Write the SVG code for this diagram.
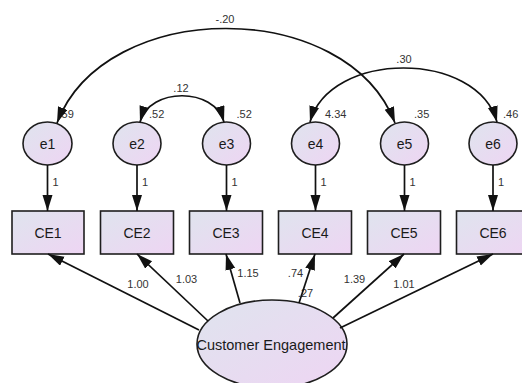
<svg xmlns="http://www.w3.org/2000/svg" width="522" height="383" viewBox="0 0 522 383">
  <defs>
    <linearGradient id="fillGrad" x1="0" y1="0" x2="1" y2="1">
      <stop offset="0" stop-color="#dfe4ee"/>
      <stop offset="1" stop-color="#eed5f3"/>
    </linearGradient>
    <marker id="arrow" markerUnits="userSpaceOnUse" markerWidth="17" markerHeight="11" refX="16" refY="5" orient="auto-start-reverse">
      <path d="M0,0 L16,5 L0,10 z" fill="#111"/>
    </marker>
  </defs>
  <style>
    .shape { fill: url(#fillGrad); stroke: #1e1e1e; stroke-width: 1.6; }
    .name { font-family: "Liberation Sans", Arial, sans-serif; font-size: 14px; fill: #1a1a1a; text-anchor: middle; }
    .big { font-size: 14.5px; }
    .est { font-family: "Liberation Sans", Arial, sans-serif; font-size: 11px; fill: #333; }
    .mid { text-anchor: middle; }
    .link { fill: none; stroke: #111; stroke-width: 1.7; marker-end: url(#arrow); }
    .cov { fill: none; stroke: #111; stroke-width: 1.7; marker-start: url(#arrow); marker-end: url(#arrow); }
  </style>
  <rect width="522" height="383" fill="#fff"/>

  <!-- error terms -->
  <g id="e1"><ellipse class="shape" cx="47.5" cy="143.5" rx="24.5" ry="21.5"/><text class="name" x="47.5" y="148.5">e1</text><text class="est" x="58.5" y="118">.59</text></g>
  <g id="e2"><ellipse class="shape" cx="137" cy="143.5" rx="24" ry="21.5"/><text class="name" x="137" y="148.5">e2</text><text class="est" x="149" y="118">.52</text></g>
  <g id="e3"><ellipse class="shape" cx="226.5" cy="143.5" rx="24" ry="21.5"/><text class="name" x="226.5" y="148.5">e3</text><text class="est" x="236.5" y="118">.52</text></g>
  <g id="e4"><ellipse class="shape" cx="315.5" cy="143.5" rx="24" ry="21.5"/><text class="name" x="315.5" y="148.5">e4</text><text class="est" x="325" y="118">4.34</text></g>
  <g id="e5"><ellipse class="shape" cx="404.5" cy="143.5" rx="24" ry="21.5"/><text class="name" x="404.5" y="148.5">e5</text><text class="est" x="414" y="118">.35</text></g>
  <g id="e6"><ellipse class="shape" cx="493" cy="143.5" rx="24" ry="21.5"/><text class="name" x="493" y="148.5">e6</text><text class="est" x="503" y="118">.46</text></g>

  <!-- observed indicators -->
  <g id="CE1"><rect class="shape" x="12" y="211" width="72" height="43"/><text class="name" x="48" y="238">CE1</text></g>
  <g id="CE2"><rect class="shape" x="100.5" y="211" width="73" height="43"/><text class="name" x="137" y="238">CE2</text></g>
  <g id="CE3"><rect class="shape" x="189.5" y="211" width="73" height="43"/><text class="name" x="226" y="238">CE3</text></g>
  <g id="CE4"><rect class="shape" x="278.5" y="211" width="73" height="43"/><text class="name" x="315" y="238">CE4</text></g>
  <g id="CE5"><rect class="shape" x="367.5" y="211" width="73" height="43"/><text class="name" x="404" y="238">CE5</text></g>
  <g id="CE6"><rect class="shape" x="456.5" y="211" width="73" height="43"/><text class="name" x="493" y="238">CE6</text></g>

  <!-- latent factor -->
  <g id="CustomerEngagement"><ellipse class="shape" cx="272" cy="344" rx="75" ry="44"/><text class="name big" x="271" y="350">Customer Engagement</text><text class="est mid" x="305.5" y="297">.27</text></g>

  <!-- paths -->
  <g id="connectors">
    <!-- error to indicator -->
    <line class="link" x1="47.5" y1="165" x2="47.5" y2="211"/>
    <line class="link" x1="137" y1="165" x2="137" y2="211"/>
    <line class="link" x1="226.5" y1="165" x2="226.5" y2="211"/>
    <line class="link" x1="315.5" y1="165" x2="315.5" y2="211"/>
    <line class="link" x1="404.5" y1="165" x2="404.5" y2="211"/>
    <line class="link" x1="493" y1="165" x2="493" y2="211"/>
    <!-- factor loadings -->
    <line class="link" x1="199" y1="330" x2="48" y2="254"/>
    <line class="link" x1="208" y1="321" x2="137" y2="254"/>
    <line class="link" x1="240" y1="303" x2="226" y2="254"/>
    <line class="link" x1="299" y1="303" x2="315" y2="254"/>
    <line class="link" x1="333" y1="318" x2="404" y2="254"/>
    <line class="link" x1="340" y1="328" x2="493" y2="254"/>
    <!-- covariances -->
    <path class="cov" d="M57,123 C105,-3 347,-3 395,123"/>
    <path class="cov" d="M140,122 C150,87 214,87 224,122"/>
    <path class="cov" d="M310,122 C330,50 477,50 497,122"/>
  </g>

  <!-- estimates -->
  <g id="estimates">
    <text class="est mid" x="225" y="23">-.20</text>
    <text class="est mid" x="181" y="92">.12</text>
    <text class="est mid" x="404" y="63">.30</text>
    <text class="est" x="52.5" y="186">1</text>
    <text class="est" x="142" y="186">1</text>
    <text class="est" x="231.5" y="186">1</text>
    <text class="est" x="320.5" y="186">1</text>
    <text class="est" x="409.5" y="186">1</text>
    <text class="est" x="498" y="186">1</text>
    <text class="est mid" x="138" y="288">1.00</text>
    <text class="est mid" x="186.5" y="283">1.03</text>
    <text class="est mid" x="248" y="277">1.15</text>
    <text class="est mid" x="295.5" y="277">.74</text>
    <text class="est mid" x="354.5" y="283">1.39</text>
    <text class="est mid" x="404" y="288">1.01</text>
  </g>
</svg>
